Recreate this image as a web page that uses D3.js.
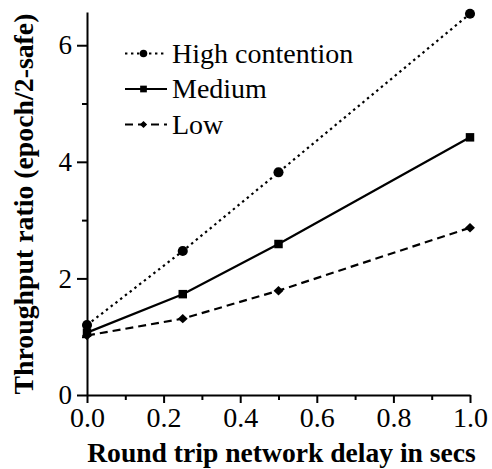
<!DOCTYPE html>
<html>
<head>
<meta charset="utf-8">
<script src="https://cdn.jsdelivr.net/npm/d3@7"></script>
<style>
  body { margin: 0; background: #fff; }
  svg { display: block; }
  .axis path, .axis line { stroke: #000; stroke-width: 2; }
</style>
</head>
<body>
<div id="chart"></div>
<script>
const svgWidth = 492;
const svgHeight = 469;
const serifFont = "'Liberation Serif'";

// Data
const delays = [0, 0.25, 0.5, 1.0];
const highValues = [1.2, 2.47, 3.82, 6.54];
const mediumValues = [1.07, 1.73, 2.59, 4.42];
const lowValues = [1.02, 1.31, 1.79, 2.87];
const seriesNames = ['High contention', 'Medium', 'Low'];
const xTicks = [0, 0.2, 0.4, 0.6, 0.8, 1.0];
const xMinorTicks = [0.1, 0.3, 0.5, 0.7, 0.9];
const yTicks = [0, 2, 4, 6];
const yMinorTicks = [1, 3, 5];

const x = d3.scaleLinear().domain([0, 1]).range([87, 470]);
const y = d3.scaleLinear().domain([0, 6.57]).range([395, 12]);

// diamond drawn as a rotated square
const diamond = {
    draw(ctx, size) {
        const r = Math.sqrt(size) / 2 * 1.1;
        ctx.moveTo(0, -r);
        ctx.lineTo(r * 1.05, 0);
        ctx.lineTo(0, r);
        ctx.lineTo(-r * 1.05, 0);
        ctx.closePath();
    }
};

const series = [
    {name: seriesNames[0], values: highValues, dash: '2.4,3.6', symbol: d3.symbolCircle, size: 80, legendSize: 45},
    {name: seriesNames[1], values: mediumValues, dash: null, symbol: d3.symbolSquare, size: 72, legendSize: 45},
    {name: seriesNames[2], values: lowValues, dash: '8,5', symbol: diamond, size: 74, legendSize: 40}
];

const svg = d3.select('#chart').append('svg')
    .attr('width', svgWidth)
    .attr('height', svgHeight);

// Minor ticks
svg.append('g')
    .attr('class', 'axis')
    .attr('transform', 'translate(0,' + y(0) + ')')
    .call(d3.axisBottom(x).tickValues(xMinorTicks).tickSize(5).tickSizeOuter(0).tickFormat(''))
    .select('.domain').remove();
svg.append('g')
    .attr('class', 'axis')
    .attr('transform', 'translate(' + x(0) + ',0)')
    .call(d3.axisLeft(y).tickValues(yMinorTicks).tickSize(5).tickSizeOuter(0).tickFormat(''))
    .select('.domain').remove();

// X axis
svg.append('g')
    .attr('class', 'axis')
    .attr('transform', 'translate(0,' + y(0) + ')')
    .call(d3.axisBottom(x).tickValues(xTicks).tickSize(8).tickSizeOuter(0).tickPadding(3.8)
        .tickFormat(d3.format('.1f')))
    .selectAll('text')
        .style('font-family', serifFont)
        .style('font-size', '28px');

// Y axis
svg.append('g')
    .attr('class', 'axis')
    .attr('transform', 'translate(' + x(0) + ',0)')
    .call(d3.axisLeft(y).tickValues(yTicks).tickSize(10).tickSizeOuter(0).tickPadding(5)
        .tickFormat(d3.format('d')))
    .selectAll('text')
        .style('font-family', serifFont)
        .style('font-size', '27px');

// Axis titles
svg.append('text')
    .attr('x', 281.5)
    .attr('y', 462)
    .attr('text-anchor', 'middle')
    .style('font-family', serifFont)
    .style('font-weight', 'bold')
    .style('font-size', '27.6px')
    .text('Round trip network delay in secs');

svg.append('text')
    .attr('transform', 'translate(33,204) rotate(-90)')
    .attr('text-anchor', 'middle')
    .style('font-family', serifFont)
    .style('font-weight', 'bold')
    .style('font-size', '27.8px')
    .text('Throughput ratio (epoch/2-safe)');

// Lines and markers
const line = d3.line()
    .x((d, i) => x(delays[i]))
    .y(d => y(d));

series.forEach(s => {
    svg.append('path')
        .datum(s.values)
        .attr('fill', 'none')
        .attr('stroke', '#000')
        .attr('stroke-width', 2.2)
        .attr('stroke-dasharray', s.dash)
        .attr('d', line);

    svg.selectAll(null)
        .data(s.values)
        .enter()
        .append('path')
            .attr('transform', (d, i) => 'translate(' + x(delays[i]) + ',' + y(d) + ')')
            .attr('d', d3.symbol().type(s.symbol).size(s.size))
            .attr('fill', '#000');
});

// Legend
const legend = svg.append('g').attr('transform', 'translate(125,53.5)');
series.forEach((s, i) => {
    const row = legend.append('g').attr('transform', 'translate(0,' + (i * 35.5) + ')');
    row.append('line')
        .attr('x1', 0).attr('x2', 42)
        .attr('stroke', '#000')
        .attr('stroke-width', 2)
        .attr('stroke-dasharray', s.dash);
    row.append('path')
        .attr('transform', 'translate(18.5,0)')
        .attr('d', d3.symbol().type(s.symbol).size(s.legendSize))
        .attr('fill', '#000');
    row.append('text')
        .attr('x', 47)
        .attr('y', 9)
        .style('font-family', serifFont)
        .style('font-size', '28px')
        .text(s.name);
});
</script>
</body>
</html>
